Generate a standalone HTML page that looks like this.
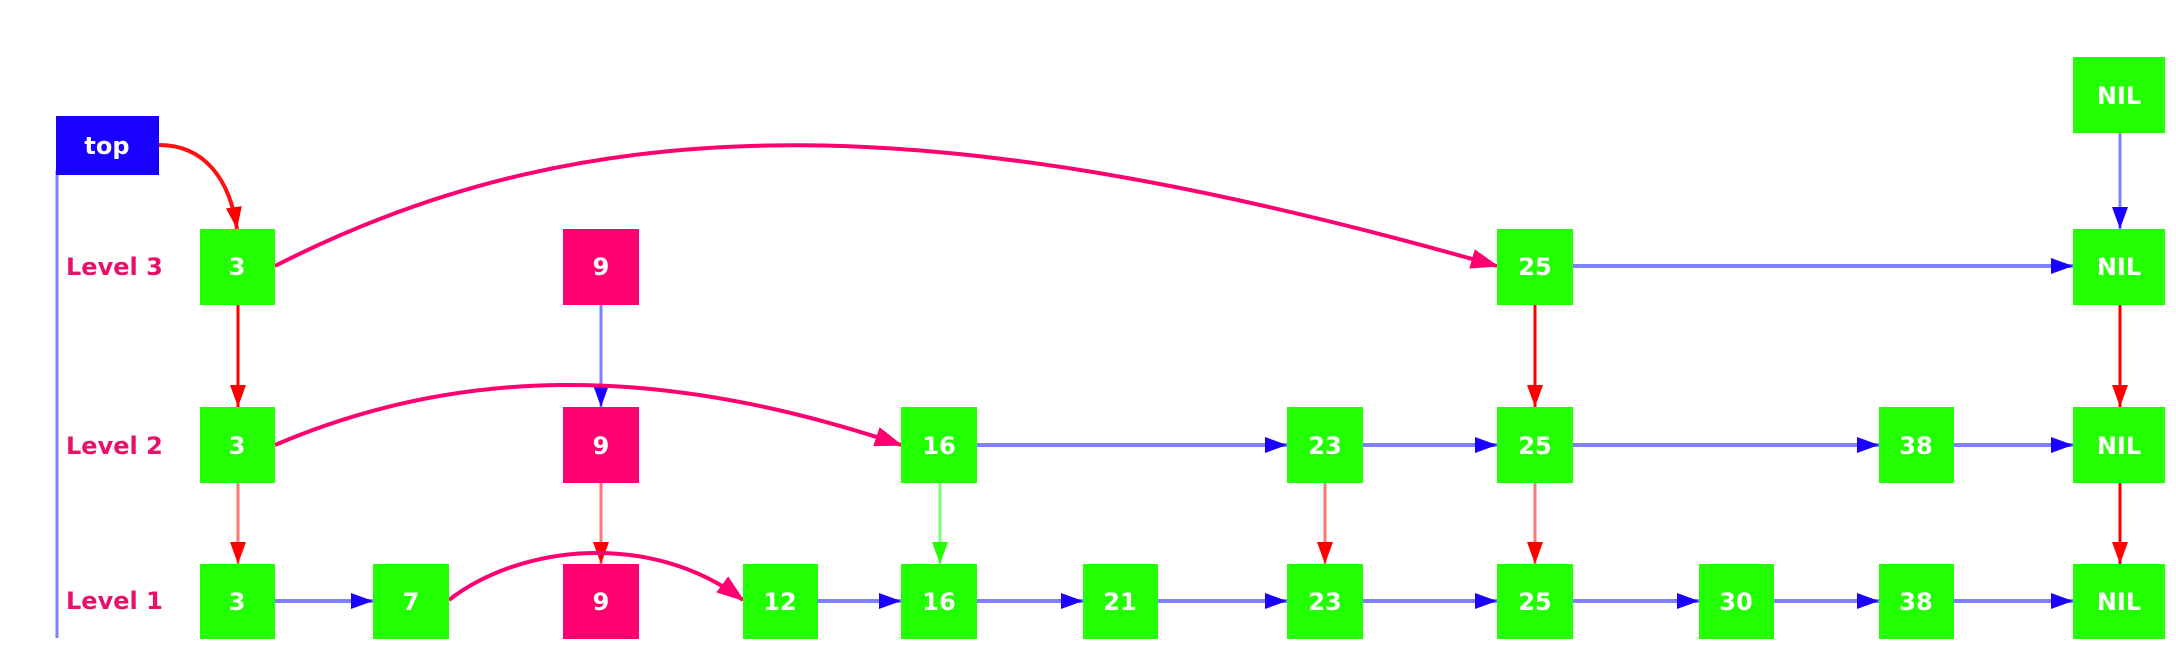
<!DOCTYPE html>
<html><head><meta charset="utf-8"><style>
html,body{margin:0;padding:0;background:#fff;}
svg{display:block;}
text{font-family:"DejaVu Sans","Liberation Sans",sans-serif;font-weight:bold;}
</style></head><body>
<svg width="2176" height="648" viewBox="0 0 2176 648" xmlns="http://www.w3.org/2000/svg">
<defs>
<marker id="ab" markerWidth="22" markerHeight="16" refX="22" refY="8" orient="auto" markerUnits="userSpaceOnUse"><path d="M0,0 L22,8 L0,16 Z" fill="#1a00ff"/></marker>
<marker id="ar" markerWidth="22" markerHeight="16" refX="22" refY="8" orient="auto" markerUnits="userSpaceOnUse"><path d="M0,0 L22,8 L0,16 Z" fill="#ff0000"/></marker>
<marker id="ag" markerWidth="22" markerHeight="16" refX="22" refY="8" orient="auto" markerUnits="userSpaceOnUse"><path d="M0,0 L22,8 L0,16 Z" fill="#22ff00"/></marker>
<marker id="ap" markerWidth="28" markerHeight="20" refX="26" refY="10" orient="auto" markerUnits="userSpaceOnUse"><path d="M0,0 L28,10 L0,20 Z" fill="#ff0070"/></marker>
</defs>
<line x1="57" y1="170" x2="57" y2="638" stroke="#7f7fff" stroke-width="3"/>
<g font-size="24" fill="#e8106a">
<text x="66" y="275">Level 3</text>
<text x="66" y="454">Level 2</text>
<text x="66" y="609">Level 1</text>
</g>
<!-- horizontal blue -->
<g stroke="#7f7fff" stroke-width="4" fill="none">
<line x1="1573" y1="266" x2="2073" y2="266" marker-end="url(#ab)"/>
<line x1="977" y1="445" x2="1287" y2="445" marker-end="url(#ab)"/>
<line x1="1363" y1="445" x2="1497" y2="445" marker-end="url(#ab)"/>
<line x1="1573" y1="445" x2="1879" y2="445" marker-end="url(#ab)"/>
<line x1="1954" y1="445" x2="2073" y2="445" marker-end="url(#ab)"/>
<line x1="275" y1="601" x2="373" y2="601" marker-end="url(#ab)"/>
<line x1="818" y1="601" x2="901" y2="601" marker-end="url(#ab)"/>
<line x1="977" y1="601" x2="1083" y2="601" marker-end="url(#ab)"/>
<line x1="1158" y1="601" x2="1287" y2="601" marker-end="url(#ab)"/>
<line x1="1363" y1="601" x2="1497" y2="601" marker-end="url(#ab)"/>
<line x1="1573" y1="601" x2="1699" y2="601" marker-end="url(#ab)"/>
<line x1="1774" y1="601" x2="1879" y2="601" marker-end="url(#ab)"/>
<line x1="1954" y1="601" x2="2073" y2="601" marker-end="url(#ab)"/>
</g>
<!-- vertical -->
<g fill="none" stroke-width="3">
<line x1="2120" y1="133" x2="2120" y2="229" stroke="#7f7fff" marker-end="url(#ab)"/>
<line x1="601" y1="305" x2="601" y2="407" stroke="#7f7fff" marker-end="url(#ab)"/>
<line x1="238" y1="305" x2="238" y2="407" stroke="#ff0000" marker-end="url(#ar)"/>
<line x1="1535" y1="305" x2="1535" y2="407" stroke="#ff0000" marker-end="url(#ar)"/>
<line x1="2120" y1="305" x2="2120" y2="407" stroke="#ff0000" marker-end="url(#ar)"/>
<line x1="2120" y1="483" x2="2120" y2="564" stroke="#ff0000" marker-end="url(#ar)"/>
<line x1="238" y1="483" x2="238" y2="564" stroke="#ff7777" marker-end="url(#ar)"/>
<line x1="601" y1="483" x2="601" y2="564" stroke="#ff7777" marker-end="url(#ar)"/>
<line x1="1325" y1="483" x2="1325" y2="564" stroke="#ff7777" marker-end="url(#ar)"/>
<line x1="1535" y1="483" x2="1535" y2="564" stroke="#ff7777" marker-end="url(#ar)"/>
<line x1="940" y1="483" x2="940" y2="564" stroke="#77ff77" marker-end="url(#ag)"/>
</g>
<!-- curves -->
<g fill="none" stroke="#ff0070" stroke-width="4">
<path d="M159,145 C205,145 230,180 237,229" stroke="#ff1010" marker-end="url(#ar)"/>
<path d="M275,266 C600,100 950,110 1497,266" marker-end="url(#ap)"/>
<path d="M275,445 C450,370 650,360 901,445" marker-end="url(#ap)"/>
<path d="M449,600 C520,545 650,530 743,600" marker-end="url(#ap)"/>
</g>
<!-- nodes -->
<g font-size="24" fill="#fff" text-anchor="middle">
<rect x="56" y="116" width="103" height="59" fill="#1a00ff"/><text x="107" y="154" fill="#fff">top</text>
<g fill="#22ff00">
<rect x="200" y="229" width="75" height="76"/><rect x="1497" y="229" width="76" height="76"/><rect x="2073" y="229" width="92" height="76"/><rect x="2073" y="57" width="92" height="76"/>
<rect x="200" y="407" width="75" height="76"/><rect x="901" y="407" width="76" height="76"/><rect x="1287" y="407" width="76" height="76"/><rect x="1497" y="407" width="76" height="76"/><rect x="1879" y="407" width="75" height="76"/><rect x="2073" y="407" width="92" height="76"/>
<rect x="200" y="564" width="75" height="75"/><rect x="373" y="564" width="76" height="75"/><rect x="743" y="564" width="75" height="75"/><rect x="901" y="564" width="76" height="75"/><rect x="1083" y="564" width="75" height="75"/><rect x="1287" y="564" width="76" height="75"/><rect x="1497" y="564" width="76" height="75"/><rect x="1699" y="564" width="75" height="75"/><rect x="1879" y="564" width="75" height="75"/><rect x="2073" y="564" width="92" height="75"/>
</g>
<g fill="#ff0070">
<rect x="563" y="229" width="76" height="76"/><rect x="563" y="407" width="76" height="76"/><rect x="563" y="564" width="76" height="75"/>
</g>
<text x="237" y="275">3</text><text x="601" y="275">9</text><text x="1535" y="275">25</text><text x="2119" y="275">NIL</text><text x="2119" y="104">NIL</text>
<text x="237" y="454">3</text><text x="601" y="454">9</text><text x="939" y="454">16</text><text x="1325" y="454">23</text><text x="1535" y="454">25</text><text x="1916" y="454">38</text><text x="2119" y="454">NIL</text>
<text x="237" y="610">3</text><text x="411" y="610">7</text><text x="601" y="610">9</text><text x="780" y="610">12</text><text x="939" y="610">16</text><text x="1120" y="610">21</text><text x="1325" y="610">23</text><text x="1535" y="610">25</text><text x="1736" y="610">30</text><text x="1916" y="610">38</text><text x="2119" y="610">NIL</text>
</g>
</svg>
</body></html>
